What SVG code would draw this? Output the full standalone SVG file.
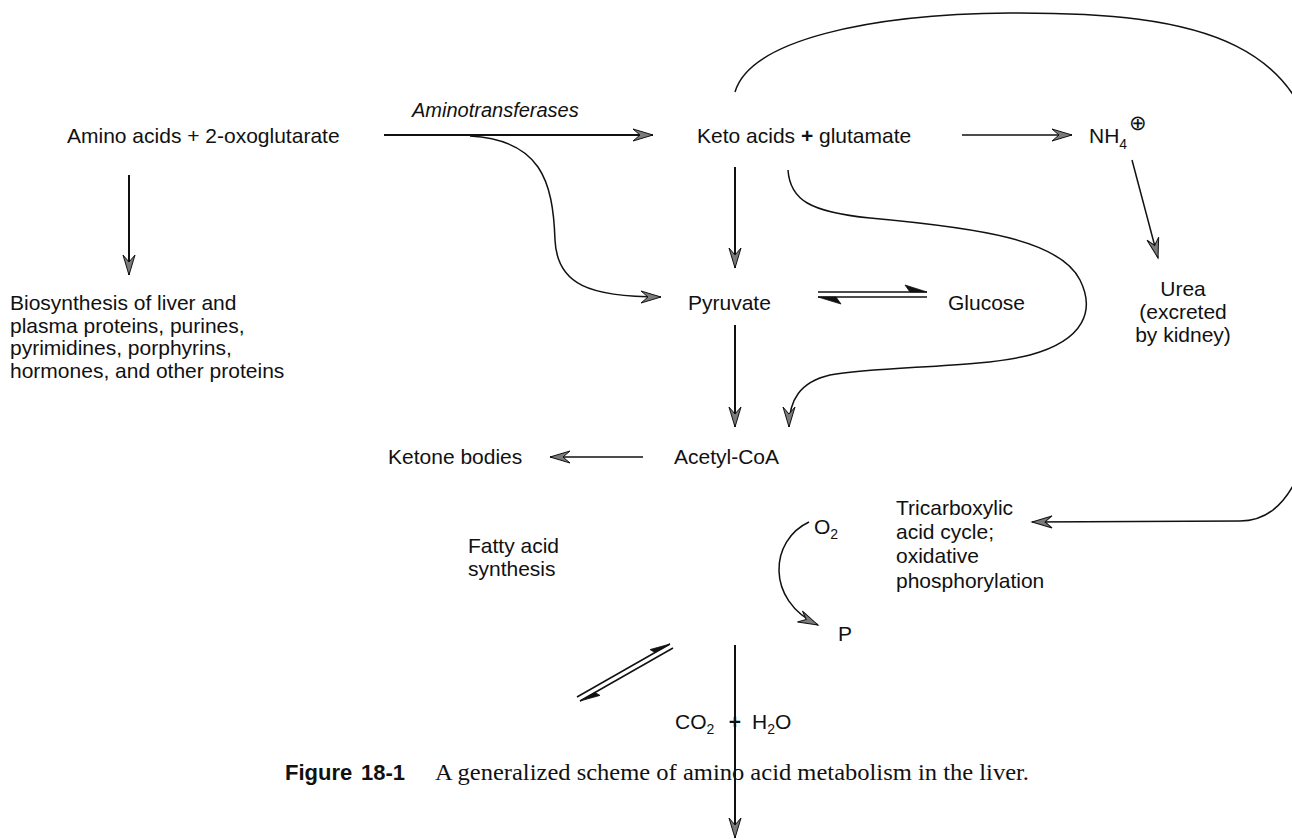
<svg xmlns="http://www.w3.org/2000/svg" width="1292" height="840" viewBox="0 0 1292 840">
<style>
text{font-family:"Liberation Sans",Arial,sans-serif;font-size:21px;fill:#111}
.it{font-style:italic;font-size:20px}
.sub{font-size:14px}
.cap{font-family:"Liberation Serif","Times New Roman",serif;font-size:23px}
.figb{font-weight:bold;font-size:22px}
.c{fill:none;stroke:#111;stroke-width:1.5}
.t{stroke-width:2}
.h{fill:#111;stroke:#111;stroke-width:0.8}
</style>
<defs>
<marker id="ah" markerUnits="userSpaceOnUse" markerWidth="24" markerHeight="16" viewBox="-22 -8 24 16" refX="0" refY="0" orient="auto">
<path d="M0,0 L-20,-6 L-13,0 L-20,6 Z" fill="#7a7a7a" stroke="#111" stroke-width="1"/>
</marker>
</defs>
<rect width="1292" height="840" fill="#fff"/>

<g id="amino"><text x="67" y="143">Amino acids + 2-oxoglutarate</text></g>
<g id="aminotransferases"><text class="it" x="412" y="117">Aminotransferases</text></g>
<g id="keto"><text x="697" y="143">Keto acids <tspan font-weight="bold">+</tspan> glutamate</text></g>
<g id="nh4"><text x="1089" y="143">NH<tspan class="sub" dy="6">4</tspan></text><text x="1129" y="130" font-size="20" font-family="DejaVu Sans,sans-serif">⊕</text></g>
<g id="biosynthesis">
<text x="10" y="310">Biosynthesis of liver and</text>
<text x="10" y="333">plasma proteins, purines,</text>
<text x="10" y="355">pyrimidines, porphyrins,</text>
<text x="10" y="378">hormones, and other proteins</text>
</g>
<g id="pyruvate"><text x="688" y="310">Pyruvate</text></g>
<g id="glucose"><text x="948" y="310">Glucose</text></g>
<g id="urea" text-anchor="middle">
<text x="1183" y="296">Urea</text>
<text x="1183" y="319">(excreted</text>
<text x="1183" y="342">by kidney)</text>
</g>
<g id="ketone"><text x="388" y="464">Ketone bodies</text></g>
<g id="acetyl"><text x="674" y="464">Acetyl-CoA</text></g>
<g id="tca">
<text x="896" y="515">Tricarboxylic</text>
<text x="896" y="539">acid cycle;</text>
<text x="896" y="563">oxidative</text>
<text x="896" y="588">phosphorylation</text>
</g>
<g id="fatty">
<text x="468" y="553">Fatty acid</text>
<text x="468" y="576">synthesis</text>
</g>
<g id="o2"><text x="814" y="534">O<tspan class="sub" dy="5">2</tspan></text></g>
<g id="p"><text x="838" y="641">P</text></g>
<g id="co2h2o">
<text x="675" y="729">CO<tspan class="sub" dy="5">2</tspan></text>
<text x="735" y="729" text-anchor="middle" font-weight="bold">+</text>
<text x="752" y="729">H<tspan class="sub" dy="5">2</tspan><tspan dy="-5">O</tspan></text>
</g>
<g id="caption">
<text class="figb" x="285" y="780">Figure</text>
<text class="figb" x="361" y="780">18-1</text>
<text class="cap" x="435" y="780" textLength="594" lengthAdjust="spacingAndGlyphs">A generalized scheme of amino acid metabolism in the liver.</text>
</g>

<g id="connectors">
<path class="c t" d="M384,135 L653,135" marker-end="url(#ah)"/>
<path class="c" d="M470,136 C540,140 553,180 555,240 C557,285 590,297 661,297" marker-end="url(#ah)"/>
<path class="c t" d="M129,175 L129,275" marker-end="url(#ah)"/>
<path class="c" d="M962,135 L1072,135" marker-end="url(#ah)"/>
<path class="c" d="M1132,160 L1158,258" marker-end="url(#ah)"/>
<path class="c t" d="M735,167 L735,268" marker-end="url(#ah)"/>
<path class="c" d="M788,170 C790,200 810,212 870,218 C980,228 1060,240 1080,280 C1095,310 1085,340 1030,355 C980,368 880,366 830,375 C800,382 789,400 789,427" marker-end="url(#ah)"/>
<path class="c" d="M735,92 C750,40 870,14 1010,13 C1200,12 1320,40 1320,200 L1320,330 C1320,460 1290,521 1240,521 L1032,522" marker-end="url(#ah)"/>
<path class="c" d="M818,292 L927,292"/>
<path class="h" d="M927,292 L905,285 L910,292 Z"/>
<path class="c" d="M818,297 L927,297"/>
<path class="h" d="M818,297 L841,304 L836,297 Z"/>
<path class="c t" d="M735,325 L735,427" marker-end="url(#ah)"/>
<path class="c" d="M643,457 L550,457" marker-end="url(#ah)"/>
<path class="c" d="M809,522 C770,540 765,600 818,625" marker-end="url(#ah)"/>
<path class="c" d="M577,697 L670,644"/>
<path class="h" d="M670,644 L650,649.6 L655,652.5 Z"/>
<path class="c" d="M580,701 L673,648"/>
<path class="h" d="M580,701 L600,695.4 L595,692.5 Z"/>
<path class="c t" d="M735,645 L735,838" marker-end="url(#ah)"/>
</g>
</svg>
